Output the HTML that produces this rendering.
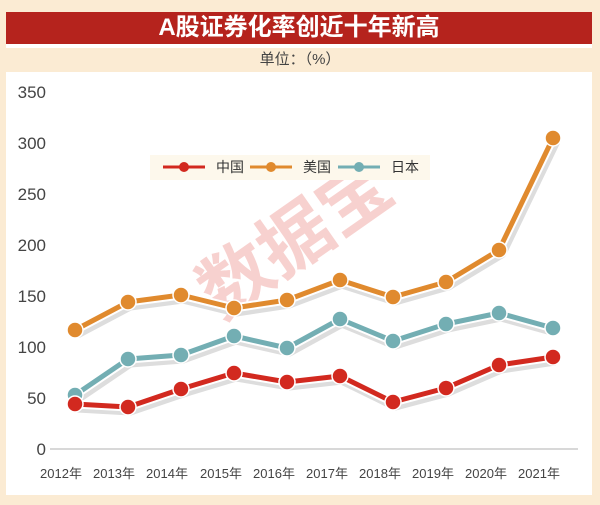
<!DOCTYPE html>
<html><head><meta charset="utf-8"><style>
body{margin:0;width:600px;height:505px;background:#fbebd3;font-family:"Liberation Sans","Noto Sans CJK SC",sans-serif;overflow:hidden;position:relative}
.title{position:absolute;left:6px;top:12px;width:586px;height:32px;background:#b5231d;color:#fff;font-size:24px;font-weight:bold;text-align:center;line-height:32px}
.ws{position:absolute;left:6px;top:44px;width:586px;height:4px;background:#fff}
.unit{position:absolute;left:0;top:48px;width:600px;text-align:center;font-size:15px;color:#444;line-height:24px}
.panel{position:absolute;left:6px;top:72px;width:586px;height:423px;background:#fff}
</style></head><body>
<div class="title">A股证券化率创近十年新高</div>
<div class="ws"></div>
<div class="unit">单位：（%）</div>
<div class="panel"></div>
<svg width="600" height="505" style="position:absolute;left:0;top:0">
<text x="300" y="262" font-size="72" fill="#f3b4b0" opacity="0.6" text-anchor="middle" transform="rotate(-35 300 245)" font-family="Noto Sans CJK SC,sans-serif" font-weight="bold">数据宝</text>
<line x1="50" y1="449" x2="578" y2="449" stroke="#ccc" stroke-width="1.5"/>
<g font-size="17" fill="#444" text-anchor="end">
<text x="46" y="455">0</text><text x="46" y="404">50</text><text x="46" y="353">100</text><text x="46" y="302">150</text><text x="46" y="251">200</text><text x="46" y="200">250</text><text x="46" y="149">300</text><text x="46" y="98">350</text>
</g>
<g font-size="13" fill="#444" text-anchor="middle">
<text x="61" y="478">2012年</text><text x="114" y="478">2013年</text><text x="167" y="478">2014年</text><text x="221" y="478">2015年</text><text x="274" y="478">2016年</text><text x="327" y="478">2017年</text><text x="380" y="478">2018年</text><text x="433" y="478">2019年</text><text x="486" y="478">2020年</text><text x="539" y="478">2021年</text>
</g>
<rect x="150" y="155" width="280" height="25" fill="#fdf8ec"/>
<g font-size="14" fill="#333">
<line x1="163" y1="167" x2="205" y2="167" stroke="#d2291f" stroke-width="3"/><circle cx="184" cy="167" r="5" fill="#d2291f"/><text x="216" y="172">中国</text>
<line x1="250" y1="167" x2="292" y2="167" stroke="#e08a2e" stroke-width="3"/><circle cx="271" cy="167" r="5" fill="#e08a2e"/><text x="303" y="172">美国</text>
<line x1="338" y1="167" x2="380" y2="167" stroke="#73aeb3" stroke-width="3"/><circle cx="359" cy="167" r="5" fill="#73aeb3"/><text x="391" y="172">日本</text>
</g>
<g fill="none" stroke-linejoin="round">
<polyline stroke="#ddd" stroke-width="11" transform="translate(2,3)" points="75,330 128,302 181,295 234,308 287,300 340,280 393,297 446,282 499,250 553,138"/>
<polyline stroke="#fff" stroke-width="9" points="75,330 128,302 181,295 234,308 287,300 340,280 393,297 446,282 499,250 553,138"/>
<polyline stroke="#e08a2e" stroke-width="5" points="75,330 128,302 181,295 234,308 287,300 340,280 393,297 446,282 499,250 553,138"/>
<polyline stroke="#ddd" stroke-width="11" transform="translate(2,3)" points="75,395 128,359 181,355 234,336 287,348 340,319 393,341 446,324 499,313 553,328"/>
<polyline stroke="#fff" stroke-width="9" points="75,395 128,359 181,355 234,336 287,348 340,319 393,341 446,324 499,313 553,328"/>
<polyline stroke="#73aeb3" stroke-width="5" points="75,395 128,359 181,355 234,336 287,348 340,319 393,341 446,324 499,313 553,328"/>
<polyline stroke="#ddd" stroke-width="11" transform="translate(2,3)" points="75,404 128,407 181,389 234,373 287,382 340,376 393,402 446,388 499,365 553,357"/>
<polyline stroke="#fff" stroke-width="9" points="75,404 128,407 181,389 234,373 287,382 340,376 393,402 446,388 499,365 553,357"/>
<polyline stroke="#d2291f" stroke-width="5" points="75,404 128,407 181,389 234,373 287,382 340,376 393,402 446,388 499,365 553,357"/>
</g>
<g fill="#e08a2e" stroke="#fff" stroke-width="1.5">
<circle cx="75" cy="330" r="8"/><circle cx="128" cy="302" r="8"/><circle cx="181" cy="295" r="8"/><circle cx="234" cy="308" r="8"/><circle cx="287" cy="300" r="8"/><circle cx="340" cy="280" r="8"/><circle cx="393" cy="297" r="8"/><circle cx="446" cy="282" r="8"/><circle cx="499" cy="250" r="8"/><circle cx="553" cy="138" r="8"/>
</g>
<g fill="#73aeb3" stroke="#fff" stroke-width="1.5">
<circle cx="75" cy="395" r="8"/><circle cx="128" cy="359" r="8"/><circle cx="181" cy="355" r="8"/><circle cx="234" cy="336" r="8"/><circle cx="287" cy="348" r="8"/><circle cx="340" cy="319" r="8"/><circle cx="393" cy="341" r="8"/><circle cx="446" cy="324" r="8"/><circle cx="499" cy="313" r="8"/><circle cx="553" cy="328" r="8"/>
</g>
<g fill="#d2291f" stroke="#fff" stroke-width="1.5">
<circle cx="75" cy="404" r="8"/><circle cx="128" cy="407" r="8"/><circle cx="181" cy="389" r="8"/><circle cx="234" cy="373" r="8"/><circle cx="287" cy="382" r="8"/><circle cx="340" cy="376" r="8"/><circle cx="393" cy="402" r="8"/><circle cx="446" cy="388" r="8"/><circle cx="499" cy="365" r="8"/><circle cx="553" cy="357" r="8"/>
</g>
</svg>
</body></html>
